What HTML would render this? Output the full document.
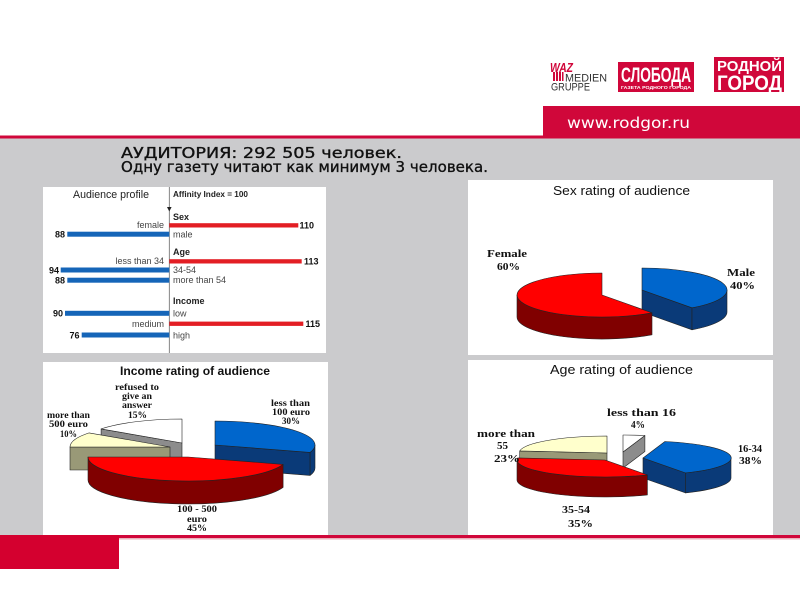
<!DOCTYPE html>
<html>
<head>
<meta charset="utf-8">
<style>
html,body{margin:0;padding:0;background:#fff;}
svg{display:block;}
.sans{font-family:"Liberation Sans","DejaVu Sans",sans-serif;}
.dv{font-family:"DejaVu Sans","Liberation Sans","Noto Sans CJK SC",sans-serif;}
.ser{font-family:"Liberation Serif","DejaVu Serif",serif;font-weight:bold;}
</style>
</head>
<body>
<svg width="800" height="600" viewBox="0 0 800 600" xmlns="http://www.w3.org/2000/svg">
  <!-- background -->
  <rect x="0" y="0" width="800" height="600" fill="#ffffff"/>
  <rect x="0" y="138" width="800" height="397" fill="#cbcbcd"/>
  <!-- top red line & url box -->
  <rect x="0" y="135.5" width="800" height="3" fill="#d0073a"/>
  <rect x="543" y="106" width="257" height="32" fill="#d0073a"/>
  <text x="567" y="128" class="dv" font-size="15" fill="#ffffff" textLength="123" lengthAdjust="spacingAndGlyphs">www.rodgor.ru</text>

  <!-- logos -->
  <text x="550" y="72" class="sans" font-size="13" font-weight="bold" font-style="italic" fill="#d0073a" textLength="23" lengthAdjust="spacingAndGlyphs">WAZ</text>
  <g fill="#d0073a">
    <rect x="553" y="72" width="2" height="9"/>
    <rect x="556" y="72" width="2" height="9"/>
    <rect x="559" y="72" width="2" height="9"/>
    <rect x="562" y="72" width="1.5" height="9"/>
  </g>
  <text x="565" y="81.5" class="sans" font-size="11" fill="#333" textLength="42" lengthAdjust="spacingAndGlyphs">MEDIEN</text>
  <text x="551" y="90.5" class="sans" font-size="11" fill="#333" textLength="39" lengthAdjust="spacingAndGlyphs">GRUPPE</text>

  <rect x="618" y="62" width="76" height="30" fill="#d0073a"/>
  <text x="621" y="82" class="sans" font-size="21" font-weight="bold" fill="#fff" textLength="70" lengthAdjust="spacingAndGlyphs">СЛОБОДА</text>
  <text x="621" y="89" class="sans" font-size="4.5" font-weight="bold" fill="#fff" textLength="70" lengthAdjust="spacingAndGlyphs">ГАЗЕТА РОДНОГО ГОРОДА</text>

  <rect x="714" y="57" width="70" height="35" fill="#d0073a"/>
  <text x="717" y="71" class="sans" font-size="15" font-weight="bold" fill="#fff" textLength="65" lengthAdjust="spacingAndGlyphs">РОДНОЙ</text>
  <text x="717" y="90" class="sans" font-size="21" font-weight="bold" fill="#fff" textLength="65" lengthAdjust="spacingAndGlyphs">ГОРОД</text>

  <!-- heading -->
  <text x="121" y="158" class="dv" font-size="15" fill="#111" stroke="#111" stroke-width="0.35" textLength="281" lengthAdjust="spacingAndGlyphs">АУДИТОРИЯ: 292 505 человек.</text>
  <text x="121" y="172" class="dv" font-size="15" fill="#111" stroke="#111" stroke-width="0.35" textLength="367" lengthAdjust="spacingAndGlyphs">Одну газету читают как минимум 3 человека.</text>

  <!-- ============ Audience profile ============ -->
  <rect x="43" y="187" width="283" height="166" fill="#ffffff"/>
  <text x="73" y="198" class="sans" font-size="11" fill="#222" textLength="76" lengthAdjust="spacingAndGlyphs">Audience profile</text>
  <text x="173" y="197" class="sans" font-size="8" font-weight="bold" fill="#222" textLength="75" lengthAdjust="spacingAndGlyphs">Affinity Index = 100</text>
  <line x1="169.3" y1="187" x2="169.3" y2="353" stroke="#666" stroke-width="0.8"/>
  <path d="M167,207 L171.6,207 L169.3,211.5 Z" fill="#222"/>
  <g class="sans" font-size="9" fill="#444">
    <text x="173" y="220" font-weight="bold" fill="#222">Sex</text>
    <text x="164" y="228" text-anchor="end">female</text>
    <text x="173" y="237.5">male</text>
    <text x="173" y="255" font-weight="bold" fill="#222">Age</text>
    <text x="164" y="264" text-anchor="end">less than 34</text>
    <text x="173" y="273">34-54</text>
    <text x="173" y="283">more than 54</text>
    <text x="173" y="304" font-weight="bold" fill="#222">Income</text>
    <text x="173" y="316.5">low</text>
    <text x="164" y="327" text-anchor="end">medium</text>
    <text x="173" y="338.5">high</text>
  </g>
  <g fill="#e31e24">
    <rect x="169.3" y="223.2" width="129" height="4.3"/>
    <rect x="169.3" y="259.2" width="132.4" height="4.3"/>
    <rect x="169.3" y="321.6" width="134" height="4.3"/>
  </g>
  <g fill="#1565b8">
    <rect x="67.3" y="231.7" width="102" height="5"/>
    <rect x="60.7" y="267.5" width="108.6" height="5"/>
    <rect x="67.3" y="277.7" width="102" height="5"/>
    <rect x="65" y="310.8" width="104.3" height="5"/>
    <rect x="81.7" y="332.5" width="87.6" height="5"/>
  </g>
  <g class="sans" font-size="9" font-weight="bold" fill="#111">
    <text x="299.5" y="228.5">110</text>
    <text x="304" y="264.5">113</text>
    <text x="305.5" y="327">115</text>
    <text x="65" y="237.5" text-anchor="end">88</text>
    <text x="59" y="273.3" text-anchor="end">94</text>
    <text x="65" y="283.3" text-anchor="end">88</text>
    <text x="63" y="316.5" text-anchor="end">90</text>
    <text x="79.5" y="338.3" text-anchor="end">76</text>
  </g>

  <!-- ============ Sex rating ============ -->
  <rect x="468" y="180" width="305" height="175" fill="#ffffff"/>
  <text x="553" y="195" class="sans" font-size="12.5" fill="#111" textLength="137" lengthAdjust="spacingAndGlyphs">Sex rating of audience</text>
  <g stroke="#222" stroke-width="0.6" stroke-linejoin="round">
    <path d="M642,290 L692,307.8 L692,329.8 L642,312 Z" fill="#0a3a78"/>
    <path d="M727,290 A85,22 0 0 1 692,307.8 L692,329.8 A85,22 0 0 0 727,312 Z" fill="#0a3a78"/>
    <path d="M642,290 L642,268 A85,22 0 0 1 692,307.8 Z" fill="#0066cc"/>
    <path d="M652,312.8 A85,22 0 0 1 517,295 L517,317 A85,22 0 0 0 652,334.8 Z" fill="#800000"/>
    <path d="M602,295 L652,312.8 A85,22 0 1 1 602,273 Z" fill="#ff0000"/>
  </g>
  <g class="ser" font-size="11" fill="#111">
    <text x="487" y="257" textLength="40" lengthAdjust="spacingAndGlyphs">Female</text>
    <text x="497" y="270" textLength="23" lengthAdjust="spacingAndGlyphs">60%</text>
    <text x="727" y="276" textLength="28" lengthAdjust="spacingAndGlyphs">Male</text>
    <text x="730" y="289" textLength="25" lengthAdjust="spacingAndGlyphs">40%</text>
  </g>

  <!-- ============ Income rating ============ -->
  <rect x="43" y="362" width="285" height="173" fill="#ffffff"/>
  <text x="120" y="375" class="sans" font-size="12" font-weight="bold" fill="#111" textLength="150" lengthAdjust="spacingAndGlyphs">Income rating of audience</text>
  <g stroke="#222" stroke-width="0.6" stroke-linejoin="round">
    <path d="M182,443 L101.1,428.9 L101.1,451.9 L182,466 Z" fill="#8c8c8c"/>
    <path d="M182,443 L101.1,428.9 A100,24 0 0 1 182,419 Z" fill="#ffffff"/>
    <path d="M215,445 L310.1,452.4 L310.1,475.4 L215,468 Z" fill="#0a3a78"/>
    <path d="M315,445 A100,24 0 0 1 310.1,452.4 L310.1,475.4 A100,24 0 0 0 315,468 Z" fill="#0a3a78"/>
    <path d="M215,445 L215,421 A100,24 0 0 1 310.1,452.4 Z" fill="#0066cc"/>
    <path d="M170,447 L70,447 L70,470 L170,470 Z" fill="#999977"/>
    <path d="M170,447 L70,447 A100,24 0 0 1 89.1,432.9 Z" fill="#ffffcc"/>
    <path d="M283.1,464.4 A100,24 0 0 1 88,457 L88,480 A100,24 0 0 0 283.1,487.4 Z" fill="#800000"/>
    <path d="M188,457 L283.1,464.4 A100,24 0 0 1 88,457 Z" fill="#ff0000"/>
  </g>
  <g class="ser" font-size="9" fill="#111">
    <text x="115" y="390" textLength="44" lengthAdjust="spacingAndGlyphs">refused to</text>
    <text x="122" y="399" textLength="30" lengthAdjust="spacingAndGlyphs">give an</text>
    <text x="122" y="408" textLength="30" lengthAdjust="spacingAndGlyphs">answer</text>
    <text x="128" y="418" textLength="19" lengthAdjust="spacingAndGlyphs">15%</text>
    <text x="47" y="418" textLength="43" lengthAdjust="spacingAndGlyphs">more than</text>
    <text x="49" y="427" textLength="39" lengthAdjust="spacingAndGlyphs">500 euro</text>
    <text x="60" y="437" textLength="17" lengthAdjust="spacingAndGlyphs">10%</text>
    <text x="271" y="406" textLength="39" lengthAdjust="spacingAndGlyphs">less than</text>
    <text x="272" y="415" textLength="38" lengthAdjust="spacingAndGlyphs">100 euro</text>
    <text x="282" y="424" textLength="18" lengthAdjust="spacingAndGlyphs">30%</text>
    <text x="177" y="512" textLength="40" lengthAdjust="spacingAndGlyphs">100 - 500</text>
    <text x="187" y="522" textLength="20" lengthAdjust="spacingAndGlyphs">euro</text>
    <text x="187" y="531" textLength="20" lengthAdjust="spacingAndGlyphs">45%</text>
  </g>

  <!-- ============ Age rating ============ -->
  <rect x="468" y="360" width="305" height="175" fill="#ffffff"/>
  <text x="550" y="374" class="sans" font-size="12.5" fill="#111" textLength="143" lengthAdjust="spacingAndGlyphs">Age rating of audience</text>
  <g stroke="#222" stroke-width="0.6" stroke-linejoin="round">
    <path d="M607,453 L519.7,450.9 L519.7,470.9 L607,473 Z" fill="#999977"/>
    <path d="M607,453 L519.7,450.9 A88,17 0 0 1 607,436 Z" fill="#ffffcc"/>
    <path d="M623,452 L644.9,435.5 L644.9,451.5 L623,468 Z" fill="#8c8c8c"/>
    <path d="M623,452 L623,435 A88,17 0 0 1 644.9,435.5 Z" fill="#ffffff"/>
    <path d="M643,458 L685.4,472.9 L685.4,492.9 L643,478 Z" fill="#0a3a78"/>
    <path d="M731,458 A88,17 0 0 1 685.4,472.9 L685.4,492.9 A88,17 0 0 0 731,478 Z" fill="#0a3a78"/>
    <path d="M643,458 L664.9,441.5 A88,17 0 0 1 685.4,472.9 Z" fill="#0066cc"/>
    <path d="M647.4,474.9 A88,17 0 0 1 517,460 L517,480 A88,17 0 0 0 647.4,494.9 Z" fill="#800000"/>
    <path d="M605,460 L647.4,474.9 A88,17 0 0 1 517.7,457.9 Z" fill="#ff0000"/>
  </g>
  <g class="ser" font-size="10" fill="#111">
    <text x="607" y="416" textLength="69" lengthAdjust="spacingAndGlyphs">less than 16</text>
    <text x="631" y="428" textLength="14" lengthAdjust="spacingAndGlyphs">4%</text>
    <text x="477" y="437" textLength="58" lengthAdjust="spacingAndGlyphs">more than</text>
    <text x="497" y="449" textLength="11" lengthAdjust="spacingAndGlyphs">55</text>
    <text x="494" y="462" textLength="26" lengthAdjust="spacingAndGlyphs">23%</text>
    <text x="738" y="452" textLength="24" lengthAdjust="spacingAndGlyphs">16-34</text>
    <text x="739" y="464" textLength="23" lengthAdjust="spacingAndGlyphs">38%</text>
    <text x="562" y="513" textLength="28" lengthAdjust="spacingAndGlyphs">35-54</text>
    <text x="568" y="527" textLength="25" lengthAdjust="spacingAndGlyphs">35%</text>
  </g>

  <!-- bottom -->
  <rect x="0" y="535" width="800" height="3" fill="#d0073a"/>
  <rect x="0" y="538" width="800" height="1.5" fill="#eab2bb"/>
  <rect x="0" y="535" width="119" height="34" fill="#d4002f"/>
</svg>
</body>
</html>
